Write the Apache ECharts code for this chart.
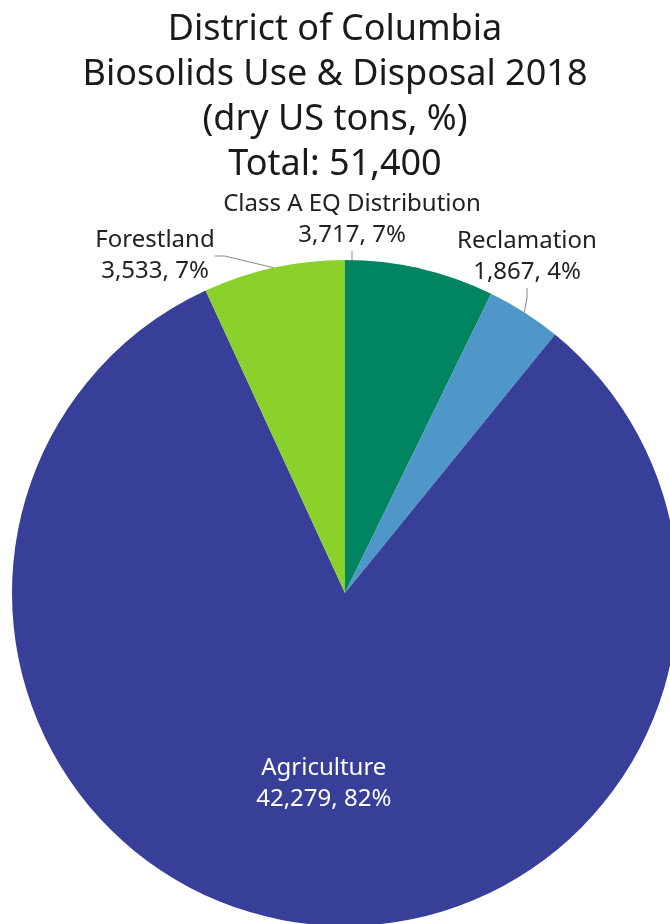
<!DOCTYPE html>
<html>
<head>
<meta charset="utf-8">
<script src="https://cdn.jsdelivr.net/npm/echarts@6/dist/echarts.min.js"></script>
<style>
  html, body { margin: 0; padding: 0; background: #fff; }
  #pieChart { width: 670px; height: 924px; }
</style>
</head>
<body>
<div id="pieChart"></div>
<script>
var categories = ["Class A EQ Distribution", "Reclamation", "Agriculture", "Forestland"];
var tons = [3717, 1867, 42279, 3533];
var colors = ["#018560", "#4e97c8", "#373f98", "#8bd12b"];

// where each label sits (label box centre)
var labelSpots = [[352, 220], [527, 257], null, [155, 256]];

var myChart = echarts.init(document.getElementById('pieChart'));

function fmt(n) {
    return n.toString().replace(/\B(?=(\d{3})+(?!\d))/g, ",");
}

var pieData = categories.map(function (name, i) {
    var item = { name: name, value: tons[i], itemStyle: { color: colors[i] } };
    if (i == 2) {
        item.label = { position: 'inside', color: '#fff' };
    }
    return item;
});

var option = {
    backgroundColor: '#fff',
    title: {
        text: "District of Columbia\nBiosolids Use & Disposal 2018\n(dry US tons, %)\nTotal: 51,400",
        left: 'center',
        top: 2,
        textStyle: {
            fontFamily: 'Noto Sans',
            fontWeight: 'normal',
            fontSize: 36,
            lineHeight: 45,
            color: '#1a1a1a'
        }
    },
    series: [{
        type: 'pie',
        center: [345, 593],
        radius: [0, 333],
        startAngle: 90,
        clockwise: true,
        avoidLabelOverlap: false,
        animation: false,
        data: pieData,
        label: {
            show: true,
            position: 'outside',
            fontFamily: 'Noto Sans',
            fontSize: 24,
            lineHeight: 31,
            color: '#222',
            align: 'center',
            formatter: function (p) {
                return p.name + "\n" + fmt(p.value) + ", " + Math.round(p.percent) + "%";
            }
        },
        labelLine: {
            show: true,
            length: 12,
            length2: 10,
            lineStyle: { color: '#888', width: 1 }
        },
        labelLayout: function (params) {
            var spot = labelSpots[params.dataIndex];
            if (!spot) {
                return { dy: 22 };
            }
            return {
                x: spot[0],
                y: spot[1],
                align: 'center',
                verticalAlign: 'middle'
            };
        }
    }]
};

myChart.setOption(option);
</script>
</body>
</html>
